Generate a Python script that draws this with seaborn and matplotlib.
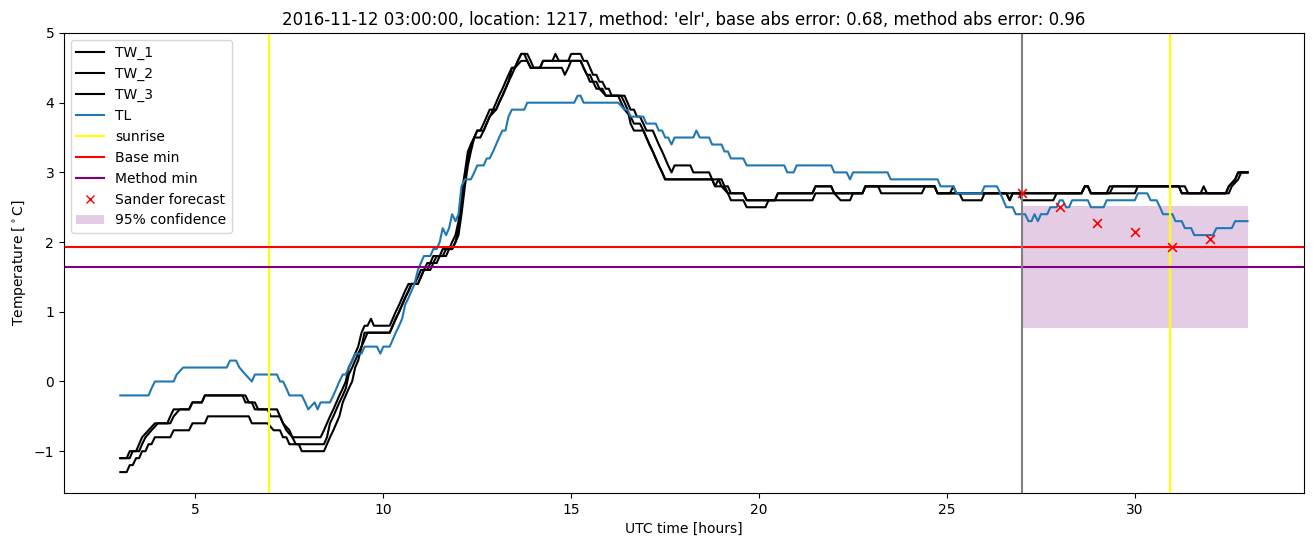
import matplotlib
matplotlib.use("Agg")
import matplotlib.pyplot as plt
import seaborn as sns
import numpy as np
from matplotlib.lines import Line2D
from matplotlib.patches import Patch

# ---------------- data (breakpoints: (hour, value)) ----------------
TW_1 = [(3.00,-1.1),(3.17,-1.1),(3.25,-1.0),(3.42,-1.0),(3.50,-0.9),(3.58,-0.8),(3.75,-0.7),(3.92,-0.6),(4.25,-0.6),(4.33,-0.5),(4.42,-0.4),(4.83,-0.4),(4.92,-0.3),(5.17,-0.3),(5.25,-0.2),(6.25,-0.2),(6.33,-0.3),(6.50,-0.3),(6.58,-0.4),(7.17,-0.4),(7.25,-0.5),(7.33,-0.6),(7.50,-0.7),(7.58,-0.8),(8.33,-0.8),(8.42,-0.7),(8.50,-0.6),(8.58,-0.5),(8.67,-0.4),(8.75,-0.3),(8.83,-0.2),(8.92,-0.1),(9.00,0.0),(9.08,0.2),(9.17,0.3),(9.25,0.4),(9.33,0.5),(9.42,0.7),(9.50,0.8),(9.58,0.8),(9.67,0.9),(9.75,0.8),(10.17,0.8),(10.25,0.9),(10.33,1.0),(10.42,1.1),(10.50,1.2),(10.58,1.3),(10.67,1.4),(10.83,1.4),(10.92,1.5),(11.00,1.6),(11.08,1.6),(11.17,1.7),(11.25,1.7),(11.33,1.8),(11.50,1.8),(11.58,1.9),(11.75,1.9),(11.83,2.0),(11.92,2.1),(12.00,2.3),(12.08,2.7),(12.17,3.0),(12.25,3.3),(12.33,3.4),(12.42,3.5),(12.50,3.6),(12.58,3.6),(12.67,3.7),(12.75,3.8),(12.83,3.9),(12.92,3.9),(13.00,4.0),(13.08,4.1),(13.17,4.2),(13.25,4.3),(13.33,4.4),(13.42,4.5),(13.50,4.5),(13.58,4.6),(13.67,4.7),(13.83,4.7),(13.92,4.6),(14.00,4.5),(14.17,4.5),(14.25,4.6),(14.50,4.6),(14.58,4.7),(14.67,4.6),(14.92,4.6),(15.00,4.7),(15.25,4.7),(15.33,4.6),(15.42,4.6),(15.50,4.5),(15.58,4.4),(15.67,4.4),(15.75,4.3),(15.83,4.3),(15.92,4.2),(16.00,4.2),(16.08,4.1),(16.42,4.1),(16.50,4.0),(16.58,3.9),(16.67,3.9),(16.75,3.8),(16.83,3.8),(16.92,3.7),(17.00,3.6),(17.17,3.6),(17.25,3.5),(17.33,3.4),(17.42,3.3),(17.50,3.2),(17.58,3.1),(17.67,3.0),(17.75,3.1),(18.17,3.1),(18.25,3.0),(18.67,3.0),(18.75,2.9),(18.83,2.8),(18.92,2.9),(19.00,2.9),(19.08,2.8),(19.17,2.8),(19.25,2.7),(19.58,2.7),(19.67,2.6),(20.42,2.6),(20.50,2.7),(21.42,2.7),(21.50,2.8),(21.92,2.8),(22.00,2.7),(22.17,2.6),(22.42,2.6),(22.50,2.7),(22.75,2.7),(22.83,2.8),(23.17,2.8),(23.25,2.7),(24.33,2.7),(24.42,2.8),(24.67,2.8),(24.75,2.7),(25.08,2.7),(25.17,2.8),(25.25,2.7),(26.58,2.7),(26.67,2.6),(26.75,2.7),(28.58,2.7),(28.67,2.8),(28.75,2.8),(28.83,2.7),(29.25,2.7),(29.33,2.8),(31.33,2.8),(31.42,2.7),(31.75,2.7),(31.83,2.8),(31.92,2.7),(32.42,2.7),(32.50,2.8),(32.67,2.9),(32.75,3.0),(33.00,3.0)]

TW_2 = [(3.00,-1.1),(3.25,-1.1),(3.33,-1.0),(3.50,-1.0),(3.58,-0.9),(3.67,-0.8),(3.83,-0.7),(4.00,-0.6),(4.33,-0.6),(4.42,-0.5),(4.58,-0.4),(4.83,-0.4),(4.92,-0.3),(5.17,-0.3),(5.25,-0.2),(6.33,-0.2),(6.42,-0.3),(6.58,-0.3),(6.67,-0.4),(6.92,-0.4),(7.00,-0.5),(7.25,-0.5),(7.33,-0.6),(7.42,-0.7),(7.58,-0.8),(7.67,-0.9),(8.42,-0.9),(8.50,-0.8),(8.58,-0.6),(8.67,-0.5),(8.75,-0.4),(8.83,-0.3),(8.92,-0.2),(9.00,-0.1),(9.08,0.1),(9.17,0.2),(9.25,0.3),(9.33,0.4),(9.42,0.5),(9.50,0.7),(10.17,0.7),(10.25,0.8),(10.33,0.9),(10.42,1.0),(10.50,1.1),(10.58,1.2),(10.67,1.3),(10.75,1.4),(10.92,1.4),(11.00,1.5),(11.08,1.6),(11.25,1.6),(11.33,1.7),(11.42,1.8),(11.58,1.8),(11.67,1.9),(11.83,1.9),(11.92,2.0),(12.00,2.2),(12.08,2.6),(12.17,2.9),(12.25,3.2),(12.33,3.4),(12.42,3.5),(12.58,3.5),(12.67,3.6),(12.75,3.7),(12.83,3.8),(13.00,3.9),(13.08,4.0),(13.17,4.1),(13.25,4.2),(13.33,4.3),(13.42,4.4),(13.50,4.5),(13.67,4.6),(13.83,4.6),(13.92,4.5),(14.75,4.5),(14.83,4.4),(14.92,4.5),(15.00,4.6),(15.25,4.6),(15.33,4.5),(15.42,4.4),(15.50,4.4),(15.58,4.3),(15.67,4.3),(15.75,4.2),(15.92,4.1),(16.25,4.1),(16.33,4.0),(16.42,3.9),(16.58,3.8),(16.67,3.7),(16.83,3.7),(16.92,3.6),(17.00,3.5),(17.08,3.4),(17.17,3.3),(17.25,3.2),(17.33,3.1),(17.42,3.0),(17.50,2.9),(18.92,2.9),(19.00,2.8),(19.17,2.7),(19.25,2.6),(19.58,2.6),(19.67,2.5),(20.17,2.5),(20.25,2.6),(21.42,2.6),(21.50,2.7),(22.75,2.7),(22.83,2.8),(24.67,2.8),(24.75,2.7),(25.33,2.7),(25.42,2.6),(25.92,2.6),(26.00,2.7),(26.92,2.7),(27.00,2.6),(27.83,2.6),(27.92,2.7),(28.58,2.7),(28.67,2.8),(28.75,2.8),(28.83,2.7),(29.33,2.7),(29.42,2.8),(31.17,2.8),(31.25,2.7),(32.50,2.7),(32.58,2.8),(32.75,2.9),(32.83,3.0),(33.00,3.0)]

TW_3 = [(3.00,-1.3),(3.17,-1.3),(3.25,-1.2),(3.33,-1.2),(3.42,-1.1),(3.50,-1.1),(3.58,-1.0),(3.67,-1.0),(3.75,-0.9),(3.83,-0.9),(3.92,-0.8),(4.33,-0.8),(4.42,-0.7),(4.83,-0.7),(4.92,-0.6),(5.25,-0.6),(5.33,-0.5),(6.42,-0.5),(6.50,-0.6),(6.92,-0.6),(7.08,-0.7),(7.25,-0.7),(7.33,-0.8),(7.42,-0.8),(7.50,-0.9),(7.75,-0.9),(7.83,-1.0),(8.42,-1.0),(8.50,-0.9),(8.58,-0.8),(8.67,-0.7),(8.75,-0.6),(8.83,-0.5),(8.92,-0.3),(9.00,-0.2),(9.08,-0.1),(9.17,0.0),(9.25,0.2),(9.33,0.3),(9.42,0.5),(9.50,0.6),(9.58,0.7),(10.17,0.7),(10.25,0.8),(10.33,0.9),(10.42,1.0),(10.50,1.1),(10.58,1.2),(10.67,1.3),(10.75,1.4),(10.92,1.4),(11.00,1.5),(11.08,1.6),(11.17,1.6),(11.25,1.7),(11.42,1.7),(11.50,1.8),(11.67,1.8),(11.75,1.9),(11.83,1.9),(11.92,2.0),(12.00,2.1),(12.08,2.4),(12.17,2.8),(12.25,3.1),(12.33,3.3),(12.42,3.5),(12.50,3.6),(12.67,3.6),(12.75,3.7),(12.83,3.8),(12.92,3.9),(13.00,3.9),(13.08,4.0),(13.17,4.1),(13.25,4.2),(13.33,4.3),(13.42,4.5),(13.50,4.5),(13.58,4.6),(13.67,4.7),(13.75,4.7),(13.83,4.6),(13.92,4.5),(14.17,4.5),(14.25,4.6),(15.25,4.6),(15.33,4.5),(15.42,4.4),(15.50,4.3),(15.58,4.3),(15.67,4.2),(15.83,4.2),(15.92,4.1),(16.33,4.1),(16.42,4.0),(16.50,3.9),(16.58,3.7),(16.67,3.6),(16.92,3.6),(17.00,3.5),(17.08,3.4),(17.17,3.3),(17.25,3.2),(17.33,3.1),(17.42,3.0),(17.50,2.9),(18.75,2.9),(18.83,2.8),(19.08,2.8),(19.17,2.7),(19.58,2.7),(19.67,2.6),(20.42,2.6),(20.50,2.7),(21.42,2.7),(21.50,2.8),(21.92,2.8),(22.00,2.7),(22.75,2.7),(22.83,2.8),(24.67,2.8),(24.75,2.7),(26.58,2.7),(26.67,2.6),(26.75,2.7),(28.58,2.7),(28.67,2.8),(28.75,2.8),(28.83,2.7),(30.00,2.7),(30.08,2.8),(31.17,2.8),(31.25,2.7),(32.42,2.7),(32.50,2.8),(32.67,2.9),(32.75,3.0),(33.00,3.0)]

TL = [(3.00,-0.2),(3.75,-0.2),(3.83,-0.1),(3.92,0.0),(4.42,0.0),(4.50,0.1),(4.67,0.2),(5.83,0.2),(5.92,0.3),(6.08,0.3),(6.17,0.2),(6.33,0.1),(6.50,0.0),(6.58,0.1),(7.17,0.1),(7.25,0.0),(7.33,0.0),(7.42,-0.1),(7.50,-0.2),(7.83,-0.2),(7.92,-0.3),(8.00,-0.4),(8.17,-0.3),(8.25,-0.4),(8.33,-0.3),(8.58,-0.3),(8.67,-0.2),(8.75,-0.1),(8.83,0.0),(8.92,0.1),(9.00,0.1),(9.08,0.2),(9.17,0.3),(9.25,0.4),(9.42,0.4),(9.50,0.5),(9.83,0.5),(9.92,0.4),(10.00,0.5),(10.17,0.5),(10.25,0.6),(10.33,0.7),(10.42,0.8),(10.50,0.9),(10.58,1.1),(10.67,1.2),(10.75,1.3),(10.83,1.4),(10.92,1.6),(11.00,1.7),(11.08,1.8),(11.25,1.8),(11.33,1.9),(11.42,1.9),(11.50,2.0),(11.58,2.2),(11.67,2.1),(11.75,2.2),(11.83,2.4),(11.92,2.3),(12.00,2.4),(12.08,2.8),(12.17,2.9),(12.33,2.9),(12.42,3.0),(12.50,3.1),(12.67,3.1),(12.75,3.2),(12.83,3.2),(12.92,3.3),(13.00,3.4),(13.08,3.5),(13.17,3.6),(13.25,3.6),(13.33,3.8),(13.42,3.9),(13.75,3.9),(13.83,4.0),(15.08,4.0),(15.17,4.1),(15.25,4.1),(15.33,4.0),(16.25,4.0),(16.42,3.9),(16.50,3.9),(16.58,3.8),(16.92,3.8),(17.00,3.7),(17.25,3.7),(17.33,3.6),(17.42,3.6),(17.50,3.5),(17.58,3.5),(17.67,3.4),(17.75,3.5),(18.25,3.5),(18.33,3.6),(18.42,3.5),(18.67,3.5),(18.75,3.4),(19.00,3.4),(19.08,3.3),(19.17,3.3),(19.25,3.2),(19.58,3.2),(19.67,3.1),(20.67,3.1),(20.75,3.0),(20.92,3.0),(21.00,3.1),(21.92,3.1),(22.00,3.0),(22.33,3.0),(22.42,2.9),(22.50,3.0),(23.42,3.0),(23.50,2.9),(24.75,2.9),(24.83,2.8),(25.17,2.8),(25.25,2.7),(25.92,2.7),(26.00,2.8),(26.33,2.8),(26.42,2.7),(26.50,2.6),(26.58,2.5),(26.75,2.5),(26.83,2.4),(27.08,2.4),(27.17,2.3),(27.25,2.3),(27.33,2.4),(27.42,2.3),(27.50,2.4),(27.67,2.4),(27.75,2.5),(27.92,2.5),(28.00,2.6),(28.08,2.6),(28.17,2.5),(28.25,2.5),(28.33,2.6),(28.75,2.6),(28.83,2.5),(29.17,2.5),(29.25,2.6),(30.00,2.6),(30.08,2.7),(30.33,2.7),(30.42,2.6),(30.58,2.6),(30.67,2.5),(30.75,2.4),(30.92,2.4),(31.00,2.4),(31.08,2.3),(31.25,2.3),(31.33,2.2),(31.50,2.2),(31.58,2.1),(32.08,2.1),(32.17,2.2),(32.58,2.2),(32.67,2.3),(33.00,2.3)]

sunrise_hours = [6.95, 30.93]
forecast_start = 27.0
base_min = 1.93
method_min = 1.645
forecast_hours = [27, 28, 29, 30, 31, 32]
forecast_values = [2.70, 2.51, 2.28, 2.14, 1.93, 2.04]
conf_hours = [27.0, 33.0]
conf_low = [0.77, 0.77]
conf_high = [2.52, 2.52]

title = ("2016-11-12 03:00:00, location: 1217, method: 'elr', "
         "base abs error: 0.68, method abs error: 0.96")

# ---------------- plot ----------------
plt.style.use("default")
fig = plt.figure(figsize=(13.13, 5.47), dpi=100)
ax = fig.add_axes([0.0487, 0.0987, 0.9444, 0.841])

series = [("TW_1", TW_1, "black"), ("TW_2", TW_2, "black"),
          ("TW_3", TW_3, "black"), ("TL", TL, "#1f77b4")]
handles = []
for name, pts, col in series:
    t = [p[0] for p in pts]
    v = [p[1] for p in pts]
    sns.lineplot(x=t, y=v, ax=ax, color=col, linewidth=1.5,
                 estimator=None, sort=False, legend=False)
    handles.append(Line2D([], [], color=col, linewidth=1.5, label=name))

for i, s in enumerate(sunrise_hours):
    ax.axvline(s, color="yellow", linewidth=1.5)
handles.append(Line2D([], [], color="yellow", linewidth=1.5, label="sunrise"))

ax.axhline(base_min, color="red", linewidth=1.5)
handles.append(Line2D([], [], color="red", linewidth=1.5, label="Base min"))
ax.axhline(method_min, color="purple", linewidth=1.5)
handles.append(Line2D([], [], color="purple", linewidth=1.5, label="Method min"))

ax.axvline(forecast_start, color="gray", linewidth=1.5)

sns.scatterplot(x=forecast_hours, y=forecast_values, ax=ax, marker="x",
                color="red", s=40, linewidth=1.2, legend=False, zorder=3)
handles.append(Line2D([], [], color="red", marker="x", linestyle="none",
                      markersize=6, label="Sander forecast"))

ax.fill_between(conf_hours, conf_low, conf_high, color="purple", alpha=0.2,
                linewidth=0)
handles.append(Patch(facecolor="purple", alpha=0.2, label="95% confidence"))

ax.set_xlim(1.5, 34.5)
ax.set_ylim(-1.6, 5.0)
ax.set_xlabel("UTC time [hours]")
ax.set_ylabel("Temperature [$^\\circ$C]")
ax.set_title(title)
ax.legend(handles=handles, loc="upper left")

fig.savefig("out.png", dpi=100)
